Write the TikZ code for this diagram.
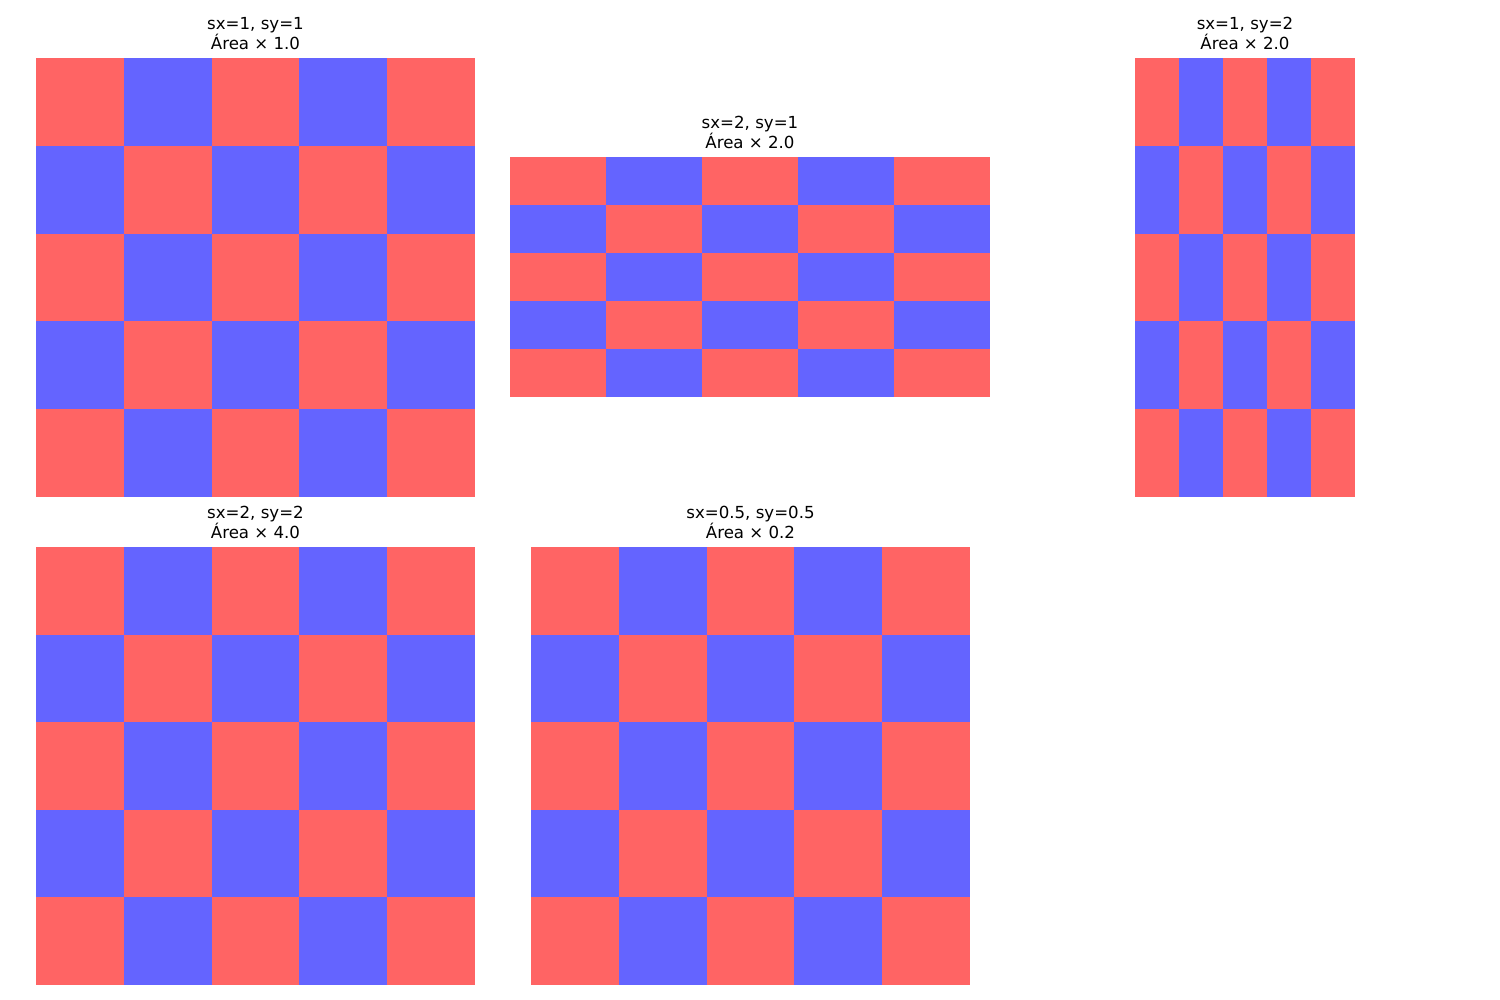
\documentclass[tikz,border=0pt]{standalone}
\usepackage{fontspec}
\setmainfont{DejaVu Sans}
\usetikzlibrary{positioning}
\definecolor{cellred}{RGB}{255,100,100}
\definecolor{cellblue}{RGB}{100,100,255}

\begin{document}
\begin{tikzpicture}[
    x=0.01in, y=-0.01in,
    title/.style={align=center, anchor=south, inner sep=0pt, font=\fontsize{12}{14.4}\selectfont},
]

\useasboundingbox (0,0) rectangle (1500,1000);

\foreach \x/\y/\w/\h/\nm/\sx/\sy/\ar in {
    36/58/439/439/a/1/1/1.0,
    510/157/480/240/b/2/1/2.0,
    1135/58/220/439/c/1/2/2.0,
    36/547/439/438/d/2/2/4.0,
    531/547/439/438/e/0.5/0.5/0.2}{
  \foreach \i in {0,...,4}{
    \foreach \j in {0,...,4}{
      \pgfmathtruncatemacro\odd{mod(\i+\j,2)}
      \ifnum\odd=0 \def\cellcol{cellred}\else\def\cellcol{cellblue}\fi
      \fill[\cellcol] (\x+\i*\w/5, \y+\j*\h/5) rectangle ++(\w/5, \h/5);
    }
  }
  \node[title] (title-\nm) at (\x+\w/2, \y-8) {sx=\sx, sy=\sy\\Área × \ar};
}

\end{tikzpicture}
\end{document}
